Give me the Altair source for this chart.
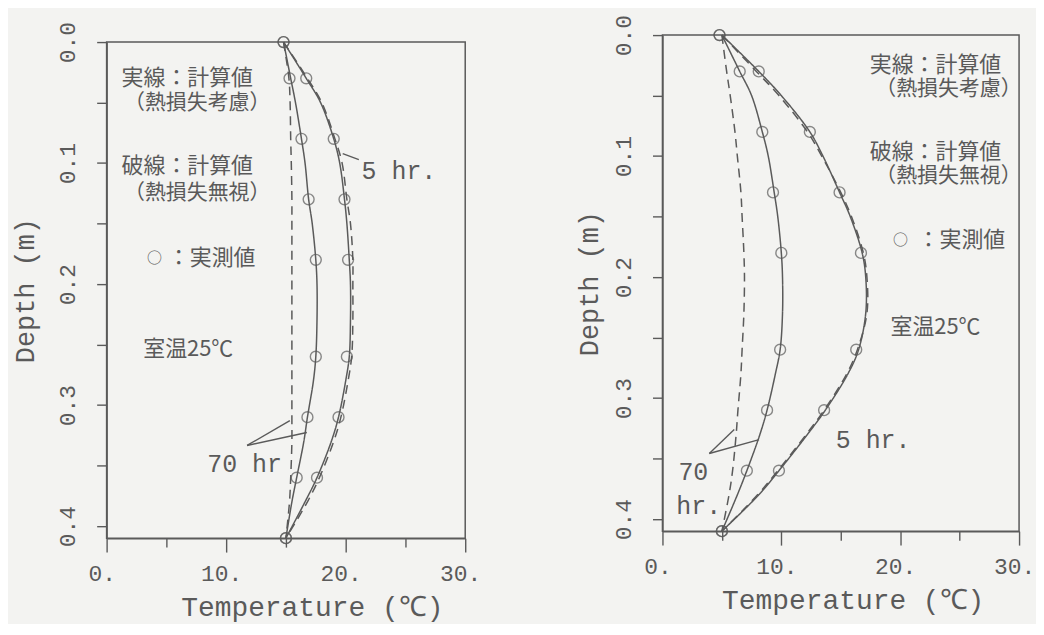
import altair as alt
import pandas as pd

FONT_MONO = "Liberation Mono"
FONT_JP = "Noto Sans CJK JP"
INK = "#5a5a5a"
BG = "#f3f3f1"

# ---------------- data ----------------
depth_meas = [0.0, 0.03, 0.08, 0.13, 0.18, 0.26, 0.31, 0.36, 0.41]
left_meas_5h = [14.8, 16.7, 19.0, 19.9, 20.2, 20.1, 19.4, 17.6, 15.0]
left_meas_70h = [14.8, 15.3, 16.3, 16.9, 17.5, 17.5, 16.8, 15.9, 15.0]
right_meas_5h = [4.8, 8.1, 12.4, 14.9, 16.7, 16.3, 13.6, 9.8, 5.0]
right_meas_70h = [4.8, 6.5, 8.4, 9.3, 10.0, 9.9, 8.8, 7.1, 5.0]

curve_depth = [0.0, 0.03, 0.05, 0.08, 0.10, 0.13, 0.15, 0.18, 0.20, 0.23,
               0.26, 0.28, 0.31, 0.33, 0.36, 0.38, 0.41]
left_5h_solid = [14.8, 16.7, 17.9, 19.0, 19.5, 19.9, 20.1, 20.3, 20.4, 20.4,
                 20.3, 20.0, 19.4, 18.8, 17.6, 16.6, 15.0]
left_5h_dashed = [14.8, 16.8, 18.0, 19.1, 19.7, 20.1, 20.4, 20.6, 20.6, 20.6,
                  20.5, 20.2, 19.6, 19.0, 17.8, 16.8, 15.0]
left_70h_solid = [14.8, 15.4, 15.8, 16.3, 16.6, 16.9, 17.2, 17.5, 17.6, 17.6,
                  17.5, 17.3, 16.8, 16.5, 15.9, 15.5, 15.0]
left_70h_dashed = [14.8, 15.25, 15.35, 15.4, 15.45, 15.5, 15.5, 15.5, 15.5, 15.5,
                   15.5, 15.5, 15.5, 15.5, 15.4, 15.3, 15.0]
right_5h_solid = [5.0, 8.1, 10.0, 12.4, 13.5, 14.9, 15.8, 16.8, 17.1, 17.1,
                  16.5, 15.6, 13.7, 12.2, 9.8, 8.1, 5.0]
right_5h_dashed = [5.0, 7.9, 9.8, 12.2, 13.4, 15.0, 15.9, 16.9, 17.2, 17.2,
                   16.4, 15.5, 13.6, 12.1, 9.7, 8.0, 5.0]
right_70h_solid = [5.0, 6.5, 7.5, 8.4, 8.9, 9.4, 9.7, 10.0, 10.1, 10.1,
                   9.9, 9.5, 8.8, 8.2, 7.1, 6.3, 5.0]
right_70h_dashed = [5.0, 5.4, 5.7, 6.1, 6.3, 6.6, 6.7, 6.85, 6.9, 6.85,
                    6.7, 6.6, 6.35, 6.2, 5.9, 5.6, 5.0]

x_ticks = [0, 5, 10, 15, 20, 25, 30]
y_ticks = [0.0, 0.05, 0.1, 0.15, 0.2, 0.25, 0.3, 0.35, 0.4]

# annotations: text, x (degC), depth (m), kind
left_notes_text = ["実線：計算値", "（熱損失考慮）", "破線：計算値", "（熱損失無視）",
                   "○", "：実測値", "室温25℃", "5 hr.", "70 hr"]
left_notes_x = [6.75, 7.58, 6.75, 7.58, 4.0, 8.79, 6.83, 21.33, 8.42]
left_notes_y = [0.0295, 0.0505, 0.1027, 0.1250, 0.1787, 0.1787, 0.2536, 0.107, 0.349]
left_notes_kind = ["jp", "jp2", "jp", "jp2", "circ", "jp", "jp", "lat", "lat"]

right_notes_text = ["実線：計算値", "（熱損失考慮）", "破線：計算値", "（熱損失無視）",
                    "○", "：実測値", "室温25℃", "5 hr.", "70", "hr."]
right_notes_x = [22.97, 24.06, 22.97, 24.06, 20.03, 25.15, 22.97, 14.58, 1.34, 1.17]
right_notes_y = [0.0245, 0.0446, 0.097, 0.1162, 0.1696, 0.1696, 0.2412, 0.335, 0.3614, 0.3894]
right_notes_kind = ["jp", "jp2", "jp", "jp2", "circ", "jp", "jp", "lat", "lat", "lat"]

# leader lines: x1, y1, x2, y2
left_lead_x1 = [19.75, 11.75, 11.75]
left_lead_y1 = [0.0922, 0.3334, 0.3334]
left_lead_x2 = [21.1, 15.33, 16.75]
left_lead_y2 = [0.0971, 0.3129, 0.3227]
right_lead_x1 = [3.94, 3.94]
right_lead_y1 = [0.3458, 0.3458]
right_lead_x2 = [6.04, 8.13]
right_lead_y2 = [0.326, 0.3343]


def build_panel(meas5, meas70, c5s, c5d, c70s, c70d, notes, leads,
                width, height, title_x, ytitle_x):
    rows = []
    for name, vals, style in [("5s", c5s, "solid"), ("5d", c5d, "dashed"),
                              ("70s", c70s, "solid"), ("70d", c70d, "dashed")]:
        for i, (d, t) in enumerate(zip(curve_depth, vals)):
            rows.append({"curve": name, "style": style, "idx": i, "depth": d, "temp": t})
    curves = pd.DataFrame(rows)
    mrows = []
    for name, vals in [("5", meas5), ("70", meas70)]:
        for d, t in zip(depth_meas, vals):
            mrows.append({"set": name, "depth": d, "temp": t})
    meas = pd.DataFrame(mrows)
    txt, nx, ny, nk = notes
    notes_df = pd.DataFrame({"text": txt, "x": nx, "y": ny, "kind": nk})
    lx1, ly1, lx2, ly2 = leads
    leads_df = pd.DataFrame({"x1": lx1, "y1": ly1, "x2": lx2, "y2": ly2})

    xscale = alt.Scale(domain=[0, 30], nice=False, zero=False)
    yscale = alt.Scale(domain=[0, 0.41], reverse=True, nice=False, zero=False)
    xaxis = alt.Axis(values=x_ticks, labelExpr="datum.value % 10 === 0 ? datum.value + '.' : ''",
                     tickSize=alt.condition("datum.value % 10 === 0", alt.value(14), alt.value(9)),
                     labelPadding=11, labelFlush=False, labelOverlap=False, labelOffset=-5,
                     title="Temperature (℃)", titleX=title_x, titleY=70,
                     titleAlign="center", titleBaseline="middle", titleAngle=0, titleFontSize=28)
    yaxis = alt.Axis(values=y_ticks,
                     labelExpr="round(datum.value*100) % 10 === 0 ? format(datum.value, '.1f') : ''",
                     tickSize=10, labelPadding=17, labelAngle=270, labelFlush=False,
                     labelOverlap=False, title="Depth (m)", titleX=ytitle_x, titleY=height / 2,
                     titleAngle=270, titleAlign="center", titleBaseline="middle", titleFontSize=27)

    x = alt.X("temp:Q", scale=xscale, axis=xaxis)
    y = alt.Y("depth:Q", scale=yscale, axis=yaxis)

    lines = alt.Chart(curves).mark_line(interpolate="catmull-rom", strokeWidth=1.5, color=INK).encode(
        x=x, y=y, detail="curve:N", order="idx:Q",
        strokeDash=alt.StrokeDash("style:N", scale=alt.Scale(domain=["solid", "dashed"],
                                                              range=[[1, 0], [9, 6]]), legend=None))
    pts = alt.Chart(meas).mark_point(shape="circle", filled=False, size=120, strokeWidth=1.4,
                                     color=INK).encode(
        x=alt.X("temp:Q", scale=xscale), y=alt.Y("depth:Q", scale=yscale))
    lead = alt.Chart(leads_df).mark_rule(color=INK, strokeWidth=1.4).encode(
        x=alt.X("x1:Q", scale=xscale), y=alt.Y("y1:Q", scale=yscale), x2="x2:Q", y2="y2:Q")
    jp = alt.Chart(notes_df).transform_filter("datum.kind === 'jp'").mark_text(
        font=FONT_JP, fontSize=22, color=INK, baseline="middle", align="center").encode(
        x=alt.X("x:Q", scale=xscale), y=alt.Y("y:Q", scale=yscale), text="text:N")
    jp2 = alt.Chart(notes_df).transform_filter("datum.kind === 'jp2'").mark_text(
        font=FONT_JP, fontSize=21, color=INK, baseline="middle", align="center").encode(
        x=alt.X("x:Q", scale=xscale), y=alt.Y("y:Q", scale=yscale), text="text:N")
    circ = alt.Chart(notes_df).transform_filter("datum.kind === 'circ'").mark_text(
        font=FONT_JP, fontSize=15, color=INK, baseline="middle", align="center").encode(
        x=alt.X("x:Q", scale=xscale), y=alt.Y("y:Q", scale=yscale), text="text:N")
    lat = alt.Chart(notes_df).transform_filter("datum.kind === 'lat'").mark_text(
        font=FONT_MONO, fontSize=25, color=INK, baseline="middle", align="left").encode(
        x=alt.X("x:Q", scale=xscale), y=alt.Y("y:Q", scale=yscale), text="text:N")
    return alt.layer(lines, pts, lead, jp, jp2, circ, lat).properties(width=width, height=height)


left = build_panel(left_meas_5h, left_meas_70h, left_5h_solid, left_5h_dashed,
                   left_70h_solid, left_70h_dashed,
                   (left_notes_text, left_notes_x, left_notes_y, left_notes_kind),
                   (left_lead_x1, left_lead_y1, left_lead_x2, left_lead_y2),
                   360, 498, 206, -81)
right = build_panel(right_meas_5h, right_meas_70h, right_5h_solid, right_5h_dashed,
                    right_70h_solid, right_70h_dashed,
                    (right_notes_text, right_notes_x, right_notes_y, right_notes_kind),
                    (right_lead_x1, right_lead_y1, right_lead_x2, right_lead_y2),
                    358, 498, 191, -73)


def spacer():
    # invisible 1px block used only to set the vertical offset of a panel
    return alt.Chart(alt.Data(values=[])).mark_point(opacity=0).encode(
        x=alt.value(0), y=alt.value(0)
    ).properties(width=1, height=1, view=alt.ViewBackground(strokeOpacity=0, stroke=None))


left_col = alt.vconcat(spacer(), left, spacing=9)
right_col = alt.vconcat(spacer(), right, spacing=2)

chart = alt.hconcat(left_col, right_col, spacing=93).properties(
    background=BG, padding={"left": 3, "top": 1, "right": 0, "bottom": 0}
).configure_view(stroke=INK, strokeWidth=1.5).configure_axis(
    labelFont=FONT_MONO, titleFont=FONT_MONO, labelFontSize=23, titleFontSize=27,
    labelColor=INK, titleColor=INK, domainColor=INK, tickColor=INK, domainWidth=1.5,
    tickWidth=1.4, grid=False, titleFontWeight="normal"
)

chart.save("out.html", embed_options={"renderer": "svg", "actions": False})
